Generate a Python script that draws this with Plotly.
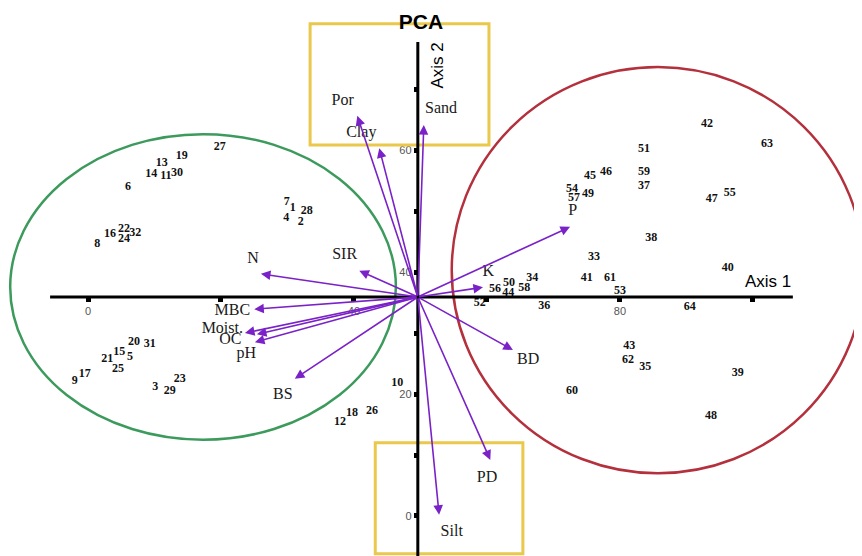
import plotly.graph_objects as go

# ---- PCA site scores (axis units) ----
site_ids = [str(i) for i in range(1, 65)]
site_x = [30.8, 32.0, 10.1, 29.8, 6.3, 6.0, 29.9, 1.4, -2.0, 46.5,
          11.7, 37.9, 11.1, 9.5, 4.7, 3.3, -0.5, 39.7, 14.1, 6.9,
          2.9, 5.4, 13.8, 5.4, 4.5, 42.7, 19.8, 32.9, 12.3, 13.4,
          9.3, 7.1, 76.1, 66.8, 83.8, 68.6, 83.6, 84.7, 97.7, 96.2,
          75.0, 93.1, 81.4, 63.2, 75.5, 77.9, 93.8, 93.7, 75.2, 63.3,
          83.6, 58.9, 80.0, 72.8, 96.5, 61.2, 73.1, 65.6, 83.6, 72.8,
          78.5, 81.2, 102.1, 90.5]
site_y = [50.5, 48.2, 21.1, 48.9, 26.1, 53.9, 51.5, 44.6, 22.1, 21.8,
          55.7, 15.4, 57.9, 56.1, 26.9, 46.2, 23.3, 16.9, 59.0, 28.5,
          25.7, 47.0, 22.5, 45.4, 24.1, 17.2, 60.5, 50.0, 20.5, 56.2,
          28.2, 46.4, 42.5, 39.0, 24.4, 34.4, 54.1, 45.6, 23.4, 40.7,
          39.0, 64.3, 27.9, 36.6, 55.7, 56.4, 52.0, 16.4, 52.8, 38.2,
          60.2, 34.9, 36.9, 53.6, 53.0, 37.2, 52.1, 37.4, 56.4, 20.5,
          39.0, 25.6, 61.0, 34.3]

# ---- variable loadings (arrow tips) and label positions ----
origin = (49.6, 35.9)
var_names = ["Sand", "Por", "Clay", "N", "SIR", "MBC", "Moist.", "pH", "OC",
             "BS", "BD", "K", "P", "PD", "Silt"]
var_x = [50.5, 40.5, 43.8, 26.0, 40.8, 25.0, 23.6, 25.4, 25.1,
         31.1, 63.9, 59.4, 72.5, 60.5, 52.8]
var_y = [64.1, 65.6, 60.3, 39.7, 40.2, 33.9, 30.0, 29.8, 28.5,
         22.5, 27.2, 37.5, 47.4, 9.2, 0.2]
lab_x = [53.1, 38.3, 41.1, 24.8, 38.6, 21.7, 20.2, 23.8, 21.4,
         29.3, 66.2, 60.2, 72.9, 60.0, 54.7]
lab_y = [66.7, 68.0, 62.8, 42.1, 42.8, 33.6, 30.7, 26.6, 28.8,
         19.8, 25.6, 40.0, 50.0, 6.2, -2.6]

x_ticks = [0, 20, 40, 60, 80, 100]
x_ticktext = ["0", "", "40", "", "80", ""]
y_ticks = [0, 10, 20, 30, 40, 50, 60, 70]
y_ticktext = ["0", "", "20", "", "40", "", "60", ""]

# ranges chosen so the page (with its 8px body margin) lines up with the reference
XR = [-12.03, 117.6]
YR = [-7.87, 83.28]
PURPLE = "#7A22C8"

fig = go.Figure()

shapes = [
    dict(type="circle", xref="x", yref="y", x0=-11.7, x1=46.3, y0=12.5, y1=62.6,
         line=dict(color="#3C9A5C", width=2.5)),
    dict(type="circle", xref="x", yref="y", x0=54.7, x1=116.7, y0=7.0, y1=73.6,
         line=dict(color="#B3303C", width=2.5)),
    dict(type="rect", xref="x", yref="y", x0=33.4, x1=60.3, y0=60.8, y1=80.7,
         line=dict(color="#E9C84C", width=3)),
    dict(type="rect", xref="x", yref="y", x0=43.2, x1=65.4, y0=-6.2, y1=12.0,
         line=dict(color="#E9C84C", width=3)),
    dict(type="line", xref="x", yref="y", x0=-5.7, x1=106.0, y0=origin[1], y1=origin[1],
         line=dict(color="black", width=3)),
    dict(type="line", xref="x", yref="y", x0=origin[0], x1=origin[0], y0=-8, y1=77.7,
         line=dict(color="black", width=3)),
]

annotations = []
for vx, vy in zip(var_x, var_y):
    annotations.append(dict(
        x=vx, y=vy, ax=origin[0], ay=origin[1], xref="x", yref="y",
        axref="x", ayref="y", text="", showarrow=True, arrowhead=2,
        arrowsize=1.2, arrowwidth=1.6, arrowcolor=PURPLE, standoff=0, startstandoff=0))

annotations.append(dict(x=102.3, y=38.5, xref="x", yref="y", text="Axis 1",
                        showarrow=False, font=dict(family="Arial, Liberation Sans", size=17, color="black")))
annotations.append(dict(x=52.6, y=73.8, xref="x", yref="y", text="Axis 2", textangle=-90,
                        showarrow=False, font=dict(family="Arial, Liberation Sans", size=17, color="black")))

fig.add_trace(go.Scatter(
    x=site_x, y=site_y, mode="text", text=site_ids,
    textfont=dict(family="Liberation Serif, Times New Roman", size=12, color="#111111", weight="bold"),
    hoverinfo="text", showlegend=False))

fig.add_trace(go.Scatter(
    x=lab_x, y=lab_y, mode="text", text=var_names,
    textfont=dict(family="Liberation Serif, Times New Roman", size=16, color="#1a1a1a"),
    hoverinfo="text", showlegend=False))

fig.update_layout(
    width=862, height=556,
    margin=dict(l=0, r=0, t=0, b=0),
    paper_bgcolor="white", plot_bgcolor="white",
    showlegend=False,
    title=dict(text="<b>PCA</b>", x=0.479, y=0.975, xanchor="center", yanchor="middle",
               font=dict(family="Arial, Liberation Sans", size=21, color="black")),
    shapes=shapes,
    annotations=annotations,
    xaxis=dict(range=XR, showgrid=False, zeroline=False, showline=False,
               anchor="free", position=(origin[1] - YR[0]) / (YR[1] - YR[0]),
               tickvals=x_ticks, ticktext=x_ticktext, ticks="outside",
               ticklen=4, tickwidth=5, tickcolor="black",
               tickfont=dict(family="Arial, Liberation Sans", size=11, color="#555555")),
    yaxis=dict(range=YR, showgrid=False, zeroline=False, showline=False,
               anchor="free", position=(origin[0] - XR[0]) / (XR[1] - XR[0]),
               tickvals=y_ticks, ticktext=y_ticktext, ticks="outside",
               ticklen=4, tickwidth=5, tickcolor="black",
               tickfont=dict(family="Arial, Liberation Sans", size=11, color="#555555")),
)

fig.write_html("out.html")
